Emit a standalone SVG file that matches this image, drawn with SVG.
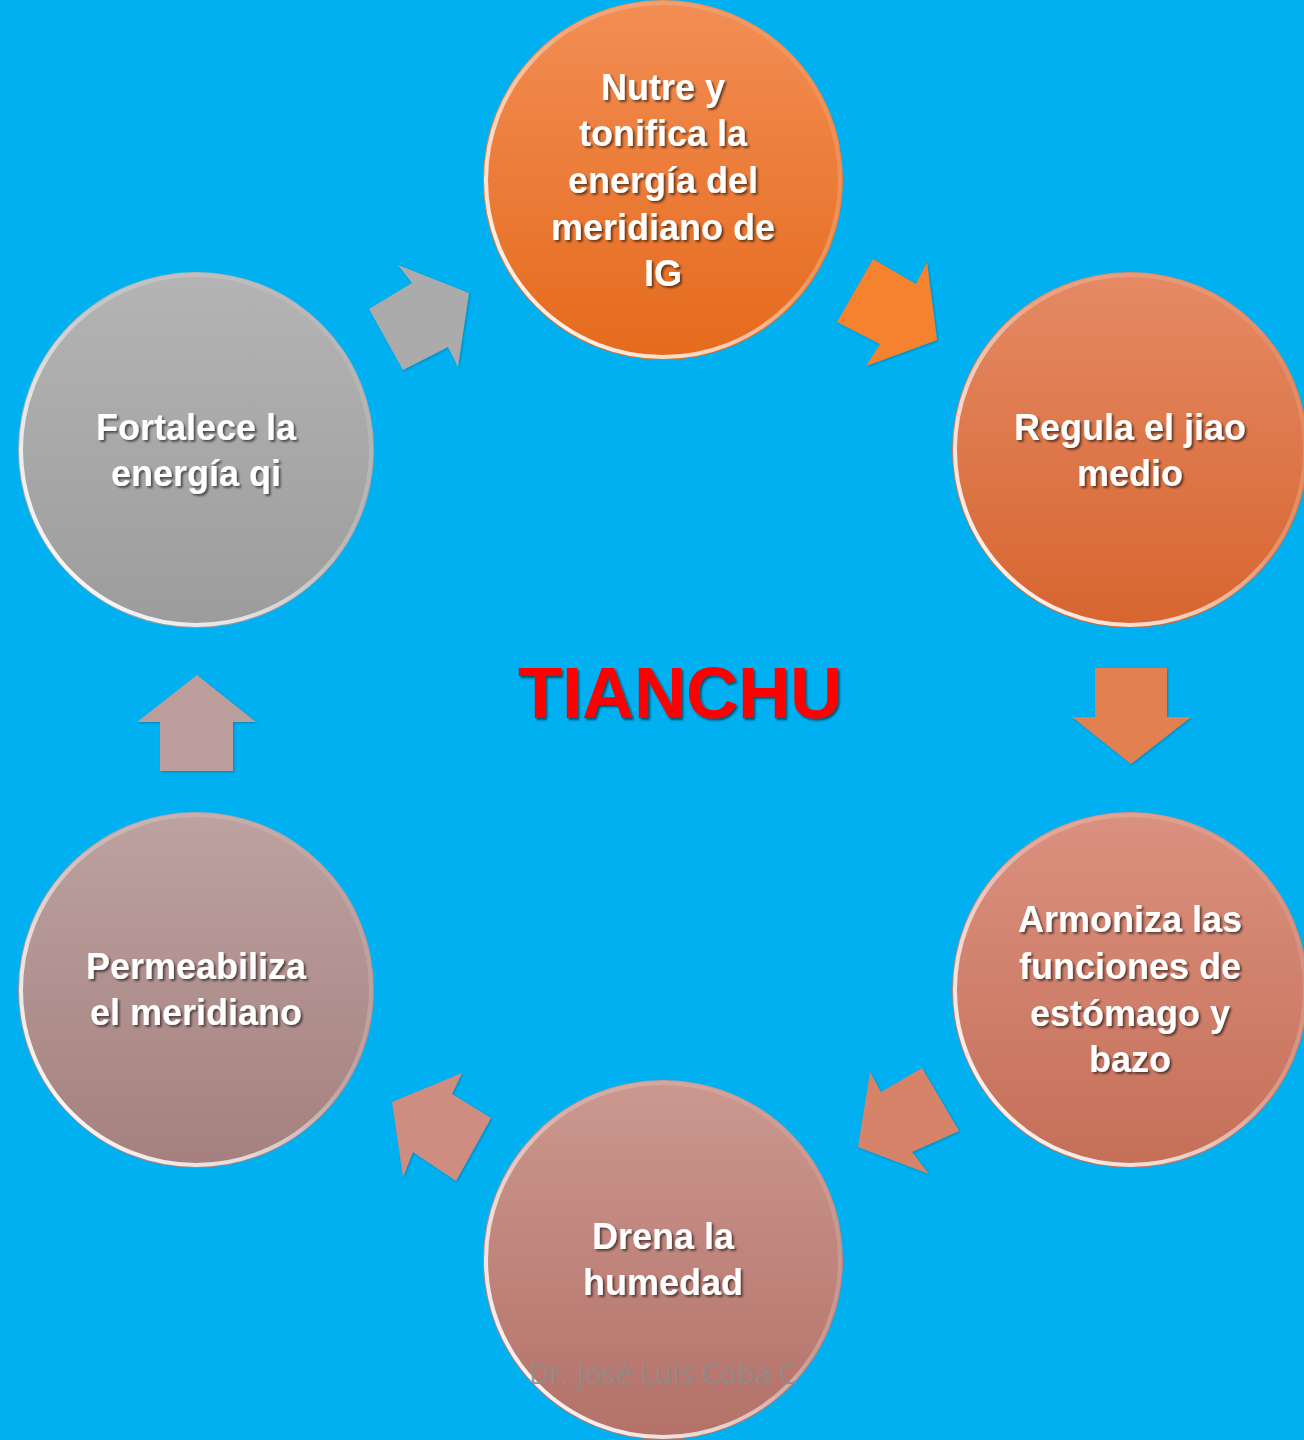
<svg xmlns="http://www.w3.org/2000/svg" width="1304" height="1440" viewBox="0 0 1304 1440">
<defs>
<style>
.t{font-family:"Liberation Sans",Arial,sans-serif;font-weight:bold;font-size:36px;fill:#FFFFFF;text-anchor:middle;filter:url(#sh)}
.rim{fill:none;stroke:url(#rimg);stroke-width:4}
</style>
<filter id="sh" x="-10%" y="-20%" width="130%" height="150%">
<feDropShadow dx="2" dy="2" stdDeviation="1.2" flood-color="#000" flood-opacity="0.55"/>
</filter>
<filter id="ash" x="-20%" y="-20%" width="140%" height="140%">
<feDropShadow dx="1" dy="1" stdDeviation="1" flood-color="#000" flood-opacity="0.25"/>
</filter>
<linearGradient id="rimg" x1="0" y1="0.9" x2="0.8" y2="0.1">
<stop offset="0" stop-color="#fff" stop-opacity="1"/>
<stop offset="0.35" stop-color="#fff" stop-opacity="0.7"/>
<stop offset="0.65" stop-color="#fff" stop-opacity="0.25"/>
<stop offset="1" stop-color="#fff" stop-opacity="0.1"/>
</linearGradient>
<linearGradient id="g1" x1="0" y1="0" x2="0" y2="1"><stop offset="0" stop-color="#F28E55"/><stop offset="1" stop-color="#E56A1C"/></linearGradient>
<linearGradient id="g2" x1="0" y1="0" x2="0" y2="1"><stop offset="0" stop-color="#E48A65"/><stop offset="1" stop-color="#D7652F"/></linearGradient>
<linearGradient id="g3" x1="0" y1="0" x2="0" y2="1"><stop offset="0" stop-color="#DA917F"/><stop offset="1" stop-color="#C56F58"/></linearGradient>
<linearGradient id="g4" x1="0" y1="0" x2="0" y2="1"><stop offset="0" stop-color="#CB988F"/><stop offset="1" stop-color="#B47168"/></linearGradient>
<linearGradient id="g5" x1="0" y1="0" x2="0" y2="1"><stop offset="0" stop-color="#BCA2A0"/><stop offset="1" stop-color="#A5807E"/></linearGradient>
<linearGradient id="g6" x1="0" y1="0" x2="0" y2="1"><stop offset="0" stop-color="#B4B4B4"/><stop offset="1" stop-color="#9C9C9C"/></linearGradient>
</defs>
<rect width="1304" height="1440" fill="#00B0F0"/>

<g id="connectors" filter="url(#ash)">
<polygon id="a1" points="873,259 916,284 927,262 937,340 866,366 880,344 837,322" fill="#F4822F"/>
<polygon id="a2" points="1095,668 1167,668 1167,717 1191,717 1131,764 1072,717 1095,717" fill="#E3804F"/>
<polygon id="a3" points="870,1072 881,1092 922,1068 959,1131 912,1152 929,1174 858,1147" fill="#D6836A"/>
<polygon id="a4" points="462,1073 452,1094 491,1118 456,1181 413,1152 403,1177 392,1102" fill="#CE8D80"/>
<polygon id="a5" points="197,675 256,722 233,722 233,771 160,771 160,722 137,722" fill="#BC9F9C"/>
<polygon id="a6" points="398,265 469,293 458,367 448,347 403,370 369,309 412,283" fill="#ABABAB"/>
</g>

<g id="n1">
<circle cx="663" cy="180" r="180" fill="url(#g1)"/>
<circle class="rim" cx="663" cy="180" r="177"/>
<text class="t" x="663" y="100">Nutre y</text>
<text class="t" x="663" y="146">tonifica la</text>
<text class="t" x="663" y="193">energía del</text>
<text class="t" x="663" y="240">meridiano de</text>
<text class="t" x="663" y="286">IG</text>
</g>
<g id="n2">
<circle cx="1130" cy="450" r="178" fill="url(#g2)"/>
<circle class="rim" cx="1130" cy="450" r="175"/>
<text class="t" x="1130" y="440">Regula el jiao</text>
<text class="t" x="1130" y="486">medio</text>
</g>
<g id="n3">
<circle cx="1130" cy="990" r="178" fill="url(#g3)"/>
<circle class="rim" cx="1130" cy="990" r="175"/>
<text class="t" x="1130" y="932">Armoniza las</text>
<text class="t" x="1130" y="979">funciones de</text>
<text class="t" x="1130" y="1026">estómago y</text>
<text class="t" x="1130" y="1072">bazo</text>
</g>
<g id="n4">
<circle cx="663" cy="1260" r="180" fill="url(#g4)"/>
<circle class="rim" cx="663" cy="1260" r="177"/>
<text class="t" x="663" y="1249">Drena la</text>
<text class="t" x="663" y="1295">humedad</text>
<text x="663" y="1384" font-family="'Open Sans','Liberation Sans',sans-serif" font-size="29" fill="#8C8C8C" fill-opacity="0.9" text-anchor="middle">Dr. José Luis Coba C</text>
</g>
<g id="n5">
<circle cx="196" cy="990" r="178" fill="url(#g5)"/>
<circle class="rim" cx="196" cy="990" r="175"/>
<text class="t" x="196" y="979">Permeabiliza</text>
<text class="t" x="196" y="1025">el meridiano</text>
</g>
<g id="n6">
<circle cx="196" cy="450" r="178" fill="url(#g6)"/>
<circle class="rim" cx="196" cy="450" r="175"/>
<text class="t" x="196" y="440">Fortalece la</text>
<text class="t" x="196" y="486">energía qi</text>
</g>
<g id="title">
<text x="680" y="718" font-family="'Liberation Sans',Arial,sans-serif" font-weight="bold" font-size="72" fill="#FF0000" text-anchor="middle" filter="url(#sh)">TIANCHU</text>
</g>
</svg>
